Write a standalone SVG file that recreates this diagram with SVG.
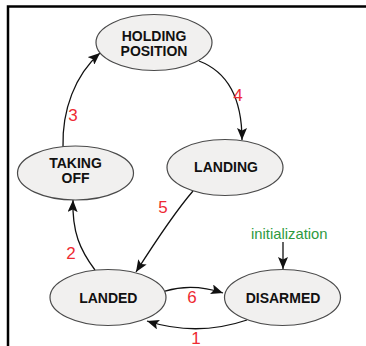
<svg xmlns="http://www.w3.org/2000/svg" width="366" height="346" viewBox="0 0 366 346">
  <style>
    .node ellipse { fill: #f1f0ef; stroke: #4a4a4a; stroke-width: 1.2; }
    .node text { font-family: "Liberation Sans", Arial, sans-serif; font-weight: bold; font-size: 14px; fill: #111; text-anchor: middle; }
    .edge { fill: none; stroke: #111; stroke-width: 1.3; marker-end: url(#arrow); }
    .num { font-family: "Liberation Sans", Arial, sans-serif; font-size: 17px; fill: #ee2a33; text-anchor: middle; }
    .init { font-family: "Liberation Sans", Arial, sans-serif; font-size: 14.8px; fill: #2e9a3e; }
  </style>
  <defs>
    <marker id="arrow" viewBox="0 0 12 10" refX="12" refY="5" markerWidth="12" markerHeight="10" markerUnits="userSpaceOnUse" orient="auto">
      <path d="M0,0 L12,5 L0,10 L2.5,5 Z" fill="#111"/>
    </marker>
  </defs>

  <!-- frame -->
  <path d="M8,346 V6.5 H366" fill="none" stroke="#000" stroke-width="2.5"/>

  <!-- transitions -->
  <g id="connectors">
    <path class="edge" d="M63,147 C62,110 75,75 100,53"/>
    <path class="edge" d="M199,61 C228,72 242,100 242,140"/>
    <path class="edge" d="M193,191 C175,212 150,250 136,272"/>
    <path class="edge" d="M95,270 C80,250 72,232 73,200"/>
    <path class="edge" d="M165,291 Q193,283 223,293"/>
    <path class="edge" d="M247,320 Q197,337 147,321"/>
    <path class="edge" d="M283,242 L283,269"/>
    <text class="num" x="73" y="121">3</text>
    <text class="num" x="238" y="101">4</text>
    <text class="num" x="163" y="213">5</text>
    <text class="num" x="71" y="259">2</text>
    <text class="num" x="192" y="303">6</text>
    <text class="num" x="196" y="343.5">1</text>
    <text class="init" x="251" y="239">initialization</text>
  </g>

  <!-- states -->
  <g id="holding-position" class="node">
    <ellipse cx="154" cy="42.5" rx="58" ry="28"/>
    <text x="154" y="41">HOLDING</text>
    <text x="154" y="55.5">POSITION</text>
  </g>
  <g id="taking-off" class="node">
    <ellipse cx="75.5" cy="173" rx="58" ry="27"/>
    <text x="75.5" y="168">TAKING</text>
    <text x="75.5" y="182.5">OFF</text>
  </g>
  <g id="landing" class="node">
    <ellipse cx="225" cy="167.5" rx="58" ry="28"/>
    <text x="226" y="172">LANDING</text>
  </g>
  <g id="landed" class="node">
    <ellipse cx="108" cy="297.5" rx="58" ry="28"/>
    <text x="108.3" y="303.3">LANDED</text>
  </g>
  <g id="disarmed" class="node">
    <ellipse cx="282.5" cy="297.5" rx="58" ry="28"/>
    <text x="283" y="303.3">DISARMED</text>
  </g>
</svg>
